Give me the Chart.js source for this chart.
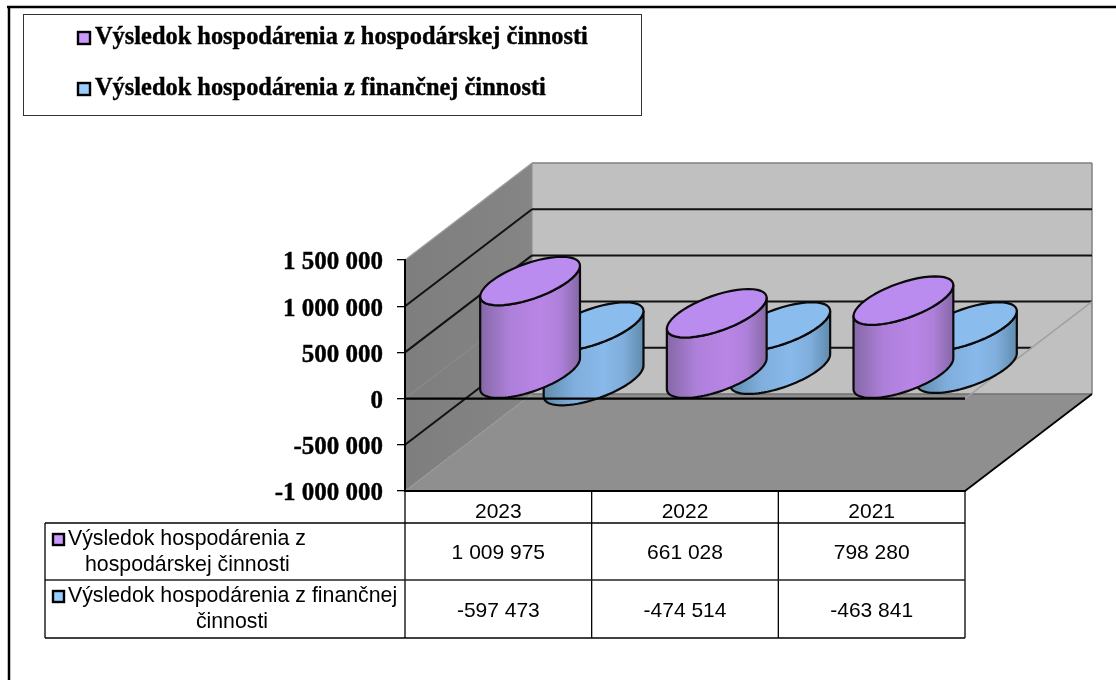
<!DOCTYPE html>
<html lang="sk">
<head>
<meta charset="utf-8">
<title>Výsledok hospodárenia</title>
<style>
  html, body { margin: 0; padding: 0; background: #fff; overflow: hidden; }
  canvas { display: block; }
</style>
<script src="https://cdn.jsdelivr.net/npm/chart.js@4"></script>
</head>
<body>
<canvas id="chart" width="1116" height="680"></canvas>
<script>
// Chart data
const years = ['2023', '2022', '2021'];
const operatingResult = [1009975, 661028, 798280];
const financialResult = [-597473, -474514, -463841];
const operatingLabel = 'Výsledok hospodárenia z hospodárskej činnosti';
const financialLabel = 'Výsledok hospodárenia z finančnej činnosti';

// Oblique projection of the depth axis, in pixels
const DEPTH_X = 127;
const DEPTH_Y = 97;
const SERIF = '"Liberation Serif", serif';
const SANS = '"Liberation Sans", sans-serif';

const groupDigits = v => String(v).replace(/\B(?=(\d{3})+(?!\d))/g, ' ');

// Samples one end cap of a cylinder, t measured around the oblique circle
function capPoint(cx, cy, a, t, bx, by) {
  return [cx + a * Math.cos(t) + bx * Math.sin(t), cy - by * Math.sin(t)];
}

function traceArc(ctx, cx, cy, a, bx, by, from, to, moveFirst) {
  const steps = 48;
  for (let i = 0; i <= steps; i++) {
    const t = from + (to - from) * i / steps;
    const p = capPoint(cx, cy, a, t, bx, by);
    if (i === 0 && moveFirst) ctx.moveTo(p[0], p[1]); else ctx.lineTo(p[0], p[1]);
  }
}

// Bars rendered as oblique cylinders standing in their own depth slot
class CylinderController extends Chart.BarController {
  draw() {
    const ctx = this.chart.ctx;
    const meta = this.getMeta();
    const count = this.chart.data.datasets.length;
    const slot = (this.index + 0.5) / count;
    const ds = this.getDataset();
    const bx = DEPTH_X / (2 * count);
    const by = DEPTH_Y / (2 * count);
    meta.data.forEach(bar => {
      const a = bar.width / 2;
      const cx = bar.x + DEPTH_X * slot;
      const upper = Math.min(bar.y, bar.base) - DEPTH_Y * slot;
      const lower = Math.max(bar.y, bar.base) - DEPTH_Y * slot;
      const t0 = Math.atan2(bx, a);
      const half = Math.hypot(a, bx);

      const side = ctx.createLinearGradient(cx - half, 0, cx + half, 0);
      side.addColorStop(0, ds.sideEdge);
      side.addColorStop(0.3, ds.sideMid);
      side.addColorStop(0.6, ds.sideLight);
      side.addColorStop(0.8, ds.sideMid);
      side.addColorStop(1, ds.sideEdge);

      ctx.save();
      ctx.lineWidth = 2.2;
      ctx.lineJoin = 'round';
      ctx.strokeStyle = '#0a0a0a';

      ctx.beginPath();
      traceArc(ctx, cx, lower, a, bx, by, t0 + Math.PI, t0 + 2 * Math.PI, true);
      traceArc(ctx, cx, upper, a, bx, by, t0 + 2 * Math.PI, t0 + Math.PI, false);
      ctx.closePath();
      ctx.fillStyle = side;
      ctx.fill();
      ctx.stroke();

      ctx.beginPath();
      traceArc(ctx, cx, upper, a, bx, by, 0, 2 * Math.PI, true);
      ctx.closePath();
      ctx.fillStyle = ds.capColor;
      ctx.fill();
      ctx.stroke();
      ctx.restore();
    });
  }
}
CylinderController.id = 'cylinder';
CylinderController.defaults = Chart.BarController.defaults;
CylinderController.overrides = Chart.BarController.overrides;
Chart.register(CylinderController);

function polygon(ctx, pts, fill) {
  ctx.beginPath();
  pts.forEach((p, i) => i ? ctx.lineTo(p[0], p[1]) : ctx.moveTo(p[0], p[1]));
  ctx.closePath();
  ctx.fillStyle = fill;
  ctx.fill();
}

function line(ctx, x1, y1, x2, y2, color, width) {
  ctx.beginPath();
  ctx.moveTo(x1, y1);
  ctx.lineTo(x2, y2);
  ctx.strokeStyle = color;
  ctx.lineWidth = width;
  ctx.stroke();
}

function swatch(ctx, x, y, size, fill) {
  ctx.fillStyle = fill;
  ctx.strokeStyle = '#000';
  ctx.lineWidth = 2.4;
  ctx.fillRect(x, y, size, size);
  ctx.strokeRect(x, y, size, size);
}

// Walls, floor and gridlines of the 3D box, painted under the axes
const boxPlugin = {
  id: 'box',
  beforeDraw(chart) {
    const ctx = chart.ctx;
    const { left, right, top, bottom } = chart.chartArea;
    const y = chart.scales.y;
    const zero = y.getPixelForValue(0);
    ctx.save();

    // Page frame
    line(ctx, 7, 7, chart.width, 7, '#000', 2.5);
    line(ctx, 9, 6, 9, chart.height, '#000', 2.5);

    polygon(ctx, [[left + DEPTH_X, top - DEPTH_Y], [right + DEPTH_X, top - DEPTH_Y],
      [right + DEPTH_X, bottom - DEPTH_Y], [left + DEPTH_X, bottom - DEPTH_Y]], '#c0c0c0');
    const wall = ctx.createLinearGradient(left, 0, left + DEPTH_X, 0);
    wall.addColorStop(0, '#7e7e7e');
    wall.addColorStop(1, '#858585');
    polygon(ctx, [[left, top], [left + DEPTH_X, top - DEPTH_Y],
      [left + DEPTH_X, bottom - DEPTH_Y], [left, bottom]], wall);
    polygon(ctx, [[left, bottom], [right, bottom],
      [right + DEPTH_X, bottom - DEPTH_Y], [left + DEPTH_X, bottom - DEPTH_Y]], '#8f8f8f');

    // Outline of the back wall
    line(ctx, left, top, left + DEPTH_X, top - DEPTH_Y, '#a0a0a0', 1.2);
    line(ctx, left + DEPTH_X, top - DEPTH_Y, right + DEPTH_X, top - DEPTH_Y, '#808080', 1.5);
    line(ctx, right + DEPTH_X, top - DEPTH_Y, right + DEPTH_X, bottom - DEPTH_Y, '#808080', 1.5);
    line(ctx, left + DEPTH_X, top - DEPTH_Y, left + DEPTH_X, bottom - DEPTH_Y, '#8c8c8c', 1);
    line(ctx, left + DEPTH_X, bottom - DEPTH_Y, right + DEPTH_X, bottom - DEPTH_Y, '#707070', 1.5);
    line(ctx, left, bottom, left + DEPTH_X, bottom - DEPTH_Y, '#9a9a9a', 1);

    // Gridlines on the side and back walls; those below zero end at the zero plane
    y.ticks.forEach(tick => {
      const py = y.getPixelForValue(tick.value);
      if (tick.value === y.max || tick.value === y.min) return;
      if (tick.value === 0) {
        line(ctx, left, py, left + DEPTH_X, py - DEPTH_Y, '#8e8e8e', 1);
        line(ctx, left + DEPTH_X, py - DEPTH_Y, right + DEPTH_X, py - DEPTH_Y, '#111', 2);
        return;
      }
      line(ctx, left, py, left + DEPTH_X, py - DEPTH_Y, '#111', 2);
      const backY = py - DEPTH_Y;
      const endX = tick.value < 0 ? right + DEPTH_X * (zero - backY) / DEPTH_Y : right + DEPTH_X;
      line(ctx, left + DEPTH_X, backY, endX, backY, '#111', 2);
    });
    line(ctx, right, zero, right + DEPTH_X, zero - DEPTH_Y, '#a0a0a0', 1.4);

    // Right edge of the floor
    line(ctx, right, bottom, right + DEPTH_X, bottom - DEPTH_Y, '#000', 1.8);
    ctx.restore();
  },
  afterDatasetsDraw(chart) {
    const ctx = chart.ctx;
    const { left, right } = chart.chartArea;
    const zero = chart.scales.y.getPixelForValue(0);
    ctx.save();
    line(ctx, left, zero, right, zero, '#000', 2.2);
    ctx.restore();
  }
};

// Legend box above the plot and the data table under it
const panelPlugin = {
  id: 'panels',
  afterDraw(chart) {
    const ctx = chart.ctx;
    const x = chart.scales.x;
    const { bottom } = chart.chartArea;
    const sets = chart.data.datasets;
    const step = x.getPixelForValue(1) - x.getPixelForValue(0);
    const edges = years.map((_, i) => x.getPixelForValue(i) - step / 2);
    edges.push(x.getPixelForValue(years.length - 1) + step / 2);
    const rowTop = 523, rowMid = 580, rowEnd = 638, tableLeft = 45;

    ctx.save();
    ctx.textBaseline = 'middle';

    // Legend
    ctx.strokeStyle = '#333';
    ctx.lineWidth = 1;
    ctx.strokeRect(23.5, 14.5, 618, 101);
    ctx.font = 'bold 24.4px ' + SERIF;
    ctx.textAlign = 'left';
    [38, 89].forEach((ty, i) => {
      swatch(ctx, 78, ty - 6, 12, sets[i].backgroundColor);
      ctx.fillStyle = '#000';
      ctx.strokeStyle = '#000';
      ctx.lineWidth = 0.4;
      ctx.fillText(sets[i].label, 95, ty);
      ctx.strokeText(sets[i].label, 95, ty);
    });

    // Table rules
    edges.forEach(px => line(ctx, px, bottom, px, rowEnd, '#000', 1.3));
    line(ctx, tableLeft, rowTop, edges[edges.length - 1], rowTop, '#000', 1.3);
    line(ctx, tableLeft, rowMid, edges[edges.length - 1], rowMid, '#222', 1.3);
    line(ctx, tableLeft, rowEnd, edges[edges.length - 1], rowEnd, '#000', 1.3);
    line(ctx, tableLeft, rowTop, tableLeft, rowEnd, '#000', 1.3);

    // Row headers
    ctx.font = '21.3px ' + SANS;
    ctx.textAlign = 'left';
    swatch(ctx, 53, 534, 11, sets[0].backgroundColor);
    swatch(ctx, 53, 591, 11, sets[1].backgroundColor);
    ctx.fillStyle = '#000';
    ctx.fillText('Výsledok hospodárenia z', 68, 539);
    ctx.fillText('hospodárskej činnosti', 85, 565);
    ctx.fillText('Výsledok hospodárenia z finančnej', 68, 596);
    ctx.textAlign = 'center';
    ctx.fillText('činnosti', 232, 622);

    // Row values
    ctx.font = '21px ' + SANS;
    sets.forEach((ds, r) => {
      ds.data.forEach((v, i) => {
        ctx.fillText(groupDigits(v), x.getPixelForValue(i), r === 0 ? 553 : 611);
      });
    });
    ctx.restore();
  }
};

function series(label, data, base, capColor, sideLight, sideMid, sideEdge) {
  return { type: 'cylinder', label, data, grouped: false, barThickness: 77, clip: false,
    backgroundColor: base, borderColor: '#000', capColor, sideLight, sideMid, sideEdge };
}

new Chart(document.getElementById('chart'), {
  type: 'bar',
  data: {
    labels: years,
    datasets: [
      series(operatingLabel, operatingResult, '#cc99ff', '#bb8cf0', '#b985e6', '#ae80da', '#8568a6'),
      series(financialLabel, financialResult, '#99ccff', '#8abcee', '#88b9ea', '#80aedc', '#5f8bad')
    ]
  },
  options: {
    responsive: false,
    animation: false,
    events: [],
    layout: { padding: { top: 260, right: 151, left: 0, bottom: 0 } },
    plugins: { legend: { display: false }, tooltip: { enabled: false } },
    scales: {
      x: {
        type: 'category',
        offset: true,
        afterFit(scale) { scale.height = 189; },
        grid: { display: false, drawTicks: false },
        border: { display: true, color: '#000', width: 2 },
        ticks: { color: '#000', padding: 9, maxRotation: 0, font: { family: SANS, size: 21 } }
      },
      y: {
        type: 'linear',
        min: -1000000,
        max: 1500000,
        afterFit(scale) {
          scale.width = 405;
          // Sit the bold labels slightly lower against their tick marks
          const compute = scale._computeLabelItems;
          scale._computeLabelItems = function (area) {
            return compute.call(this, area).map(item => ({ ...item, textOffset: item.textOffset + 1.5 }));
          };
        },
        grid: { drawOnChartArea: false, drawTicks: true, tickLength: 8, color: '#000', lineWidth: 1.3 },
        border: { display: true, color: '#000', width: 2 },
        ticks: {
          stepSize: 500000,
          color: '#000',
          padding: 14,
          textStrokeColor: '#000',
          textStrokeWidth: 0.4,
          font: { family: SERIF, size: 25, weight: 'bold' },
          callback: v => groupDigits(v)
        }
      }
    }
  },
  plugins: [boxPlugin, panelPlugin]
});
</script>
</body>
</html>
